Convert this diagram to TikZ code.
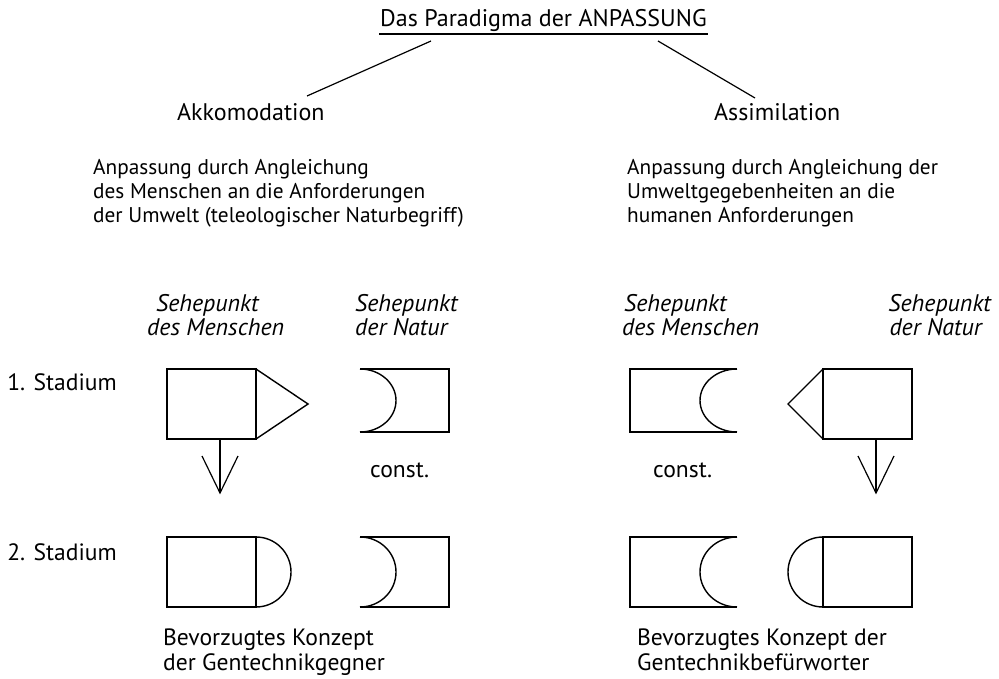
\documentclass[tikz,border=0pt]{standalone}
\usepackage{fontspec}
\setmainfont{PT Sans}
\begin{document}
\begin{tikzpicture}[x=1pt,y=-1pt,
  big/.style={anchor=base west,inner sep=0pt,font=\fontsize{24}{25}\selectfont},
  lab/.style={anchor=base west,inner sep=0pt,font=\fontsize{23.6}{25}\selectfont},
  par/.style={anchor=base west,inner sep=0pt,font=\fontsize{21.3}{24}\selectfont},
  itx/.style={anchor=base west,inner sep=0pt,font=\fontsize{24}{25}\selectfont\itshape},
  shp/.style={line width=1.4pt,line join=miter},
  ln/.style={line width=1.2pt}]
\useasboundingbox (0,0) rectangle (999,679);
% title
\node[big] (title) at (380,27) {Das Paradigma der ANPASSUNG};
\coordinate (ulL) at (379,34); \coordinate (ulR) at (708,34);
\draw[ln] (ulL) -- (ulR);
\coordinate (tl1) at (431,41); \coordinate (tl2) at (307,96);
\coordinate (tr1) at (658,41); \coordinate (tr2) at (755,98);
\draw[ln] (tl1) -- (tl2);
\draw[ln] (tr1) -- (tr2);
\node[big] (akk) at (177,121) {Akkomodation};
\node[big] (ass) at (714,121) {Assimilation};
% paragraphs
\node[par] (pl1) at (93,175) {Anpassung durch Angleichung};
\node[par] (pl2) at (93,199) {des Menschen an die Anforderungen};
\node[par] (pl3) at (93,223) {der Umwelt (teleologischer Naturbegriff)};
\node[par] (pr1) at (627,175) {Anpassung durch Angleichung der};
\node[par] (pr2) at (627,199) {Umweltgegebenheiten an die};
\node[par] (pr3) at (627,223) {humanen Anforderungen};
% view labels
\node[itx] (vml1) at (156,312) {Sehepunkt};
\node[itx] (vml2) at (147,335) {des Menschen};
\node[itx] (vnl1) at (355,312) {Sehepunkt};
\node[itx] (vnl2) at (355,335) {der Natur};
\node[itx] (vmr1) at (624,312) {Sehepunkt};
\node[itx] (vmr2) at (622,335) {des Menschen};
\node[itx,anchor=base east] (vnr1) at (991,312) {Sehepunkt};
\node[itx,anchor=base east] (vnr2) at (982,335) {der Natur};
% stage labels
\node[lab,anchor=base east] (s1) at (117,390) {1. Stadium};
\node[lab,anchor=base east] (s2) at (117,560) {2. Stadium};
% stage 1 left
\draw[shp] (167,369) rectangle (256,439);
\draw[shp] (256,369) -- (308,404) -- (256,439);
\draw[shp] (360,369) -- (449,369) -- (449,432) -- (360,432);
\draw[shp] (360,369) arc[start angle=-90,end angle=90,x radius=36,y radius=31.5];
\coordinate (a1s) at (220,439); \coordinate (a1t) at (220,493);
\coordinate (a1l) at (202,456); \coordinate (a1r) at (238,456);
\draw[ln] (a1s) -- (a1t);
\draw[ln] (a1l) -- (a1t) -- (a1r);
\node[lab] (c1) at (370,477) {const.};
% stage 1 right
\draw[shp] (737,369) -- (630,369) -- (630,432) -- (737,432);
\draw[shp] (737,369) arc[start angle=270,end angle=90,x radius=37,y radius=31.5];
\draw[shp] (823,369) rectangle (912,439);
\draw[shp] (823,369) -- (788,404) -- (823,439);
\coordinate (a2s) at (876,439); \coordinate (a2t) at (876,493);
\coordinate (a2l) at (858,456); \coordinate (a2r) at (894,456);
\draw[ln] (a2s) -- (a2t);
\draw[ln] (a2l) -- (a2t) -- (a2r);
\node[lab] (c2) at (653,477) {const.};
% stage 2 left
\draw[shp] (167,537) rectangle (256,607);
\draw[shp] (256,537) arc[start angle=-90,end angle=90,x radius=35,y radius=35];
\draw[shp] (360,537) -- (449,537) -- (449,607) -- (360,607);
\draw[shp] (360,537) arc[start angle=-90,end angle=90,x radius=36,y radius=35];
% stage 2 right
\draw[shp] (737,537) -- (630,537) -- (630,607) -- (737,607);
\draw[shp] (737,537) arc[start angle=270,end angle=90,x radius=37,y radius=35];
\draw[shp] (823,537) rectangle (912,607);
\draw[shp] (823,537) arc[start angle=270,end angle=90,x radius=35,y radius=35];
% bottom texts
\node[lab] (bl1) at (163,645) {Bevorzugtes Konzept};
\node[lab] (bl2) at (163,670) {der Gentechnikgegner};
\node[lab] (br1) at (637,645) {Bevorzugtes Konzept der};
\node[lab] (br2) at (637,670) {Gentechnikbefürworter};
\end{tikzpicture}
\end{document}
